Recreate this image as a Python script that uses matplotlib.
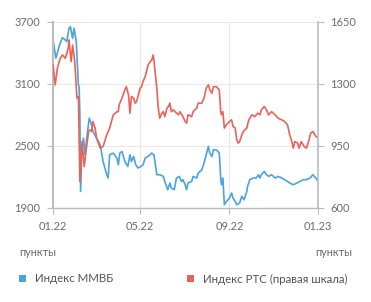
import matplotlib.pyplot as plt
from matplotlib.patches import Patch
import pandas as pd

# day offsets from 01.01.2022 and index values
mmvb_days = [0, 4, 9, 13, 17, 19, 22, 24, 27, 29, 32, 35, 36, 37, 38, 40, 42, 44, 47, 50,
             53, 55, 60, 65, 69, 74, 76, 78, 83, 88, 90, 92, 95, 99, 103, 106, 108, 111, 114, 117,
             121, 124, 127, 131, 136, 139, 143, 147, 152, 154, 158, 161, 163, 167, 170, 174, 177, 179, 182, 184,
             186, 191, 193, 198, 200, 205, 208, 211, 214, 216, 219, 221, 225, 229, 231, 232, 234, 236, 239, 243,
             246, 248, 251, 253, 257, 260, 263, 264, 267, 268, 271, 276, 280, 283, 285, 287, 291, 294, 297, 301,
             306, 310, 315, 319, 323, 326, 331, 336, 340, 345, 349, 354, 358, 362, 365]
mmvb = [3526, 3350, 3478, 3548, 3526, 3510, 3639, 3655, 3542, 3640, 3510, 3091, 3075, 2800, 2060, 2480, 2576, 2415, 2608, 2770,
        2705, 2640, 2576, 2512, 2350, 2222, 2190, 2415, 2431, 2383, 2318, 2431, 2447, 2350, 2302, 2415, 2350, 2399, 2318, 2287,
        2302, 2318, 2383, 2399, 2431, 2415, 2222, 2222, 2206, 2157, 2077, 2142, 2093, 2077, 2190, 2206, 2157, 2174, 2125, 2077,
        2142, 2157, 2206, 2190, 2238, 2270, 2335, 2415, 2496, 2431, 2399, 2463, 2463, 2431, 2190, 2125, 2190, 1932, 1964, 1996,
        2045, 1996, 1964, 1932, 1948, 2013, 1980, 1996, 2061, 2109, 2174, 2190, 2190, 2222, 2190, 2222, 2254, 2222, 2206, 2222,
        2190, 2206, 2190, 2174, 2157, 2142, 2125, 2142, 2157, 2174, 2174, 2190, 2222, 2190, 2157]

rts_days = [0, 3, 6, 10, 13, 17, 21, 22, 25, 27, 30, 33, 35, 37, 38, 40, 43, 46, 49, 51,
            53, 55, 58, 60, 65, 69, 74, 78, 83, 88, 90, 91, 95, 99, 101, 104, 106, 108, 111, 113,
            115, 117, 120, 122, 124, 127, 131, 134, 136, 138, 139, 143, 145, 147, 150, 152, 154, 157, 159, 161,
            163, 166, 168, 173, 175, 179, 182, 184, 186, 191, 193, 198, 200, 205, 208, 211, 214, 216, 219, 221,
            225, 229, 231, 232, 234, 236, 239, 243, 246, 248, 251, 253, 255, 257, 261, 264, 267, 269, 271, 274,
            278, 282, 285, 287, 291, 294, 297, 301, 306, 310, 315, 319, 323, 326, 329, 331, 333, 337, 339, 342,
            346, 349, 352, 355, 358, 362, 365]
rts = [1408, 1295, 1389, 1445, 1464, 1445, 1502, 1549, 1426, 1520, 1426, 1220, 1229, 750, 806, 975, 834, 938, 1032, 1041,
       1032, 1088, 1051, 995, 938, 947, 1013, 1051, 1126, 1144, 1144, 1182, 1220, 1267, 1285, 1239, 1135, 1229, 1220, 1192,
       1201, 1229, 1276, 1285, 1314, 1342, 1408, 1426, 1436, 1464, 1436, 1276, 1164, 1107, 1135, 1144, 1116, 1164, 1173, 1192,
       1144, 1154, 1144, 1126, 1144, 1116, 1088, 1079, 1126, 1116, 1144, 1164, 1192, 1192, 1220, 1276, 1295, 1267, 1248, 1285,
       1285, 1267, 1144, 1126, 1144, 1051, 1070, 1088, 1098, 1060, 1051, 985, 966, 975, 1023, 1041, 1051, 1088, 1107, 1126,
       1116, 1135, 1126, 1154, 1173, 1154, 1126, 1144, 1126, 1107, 1098, 1088, 1070, 1013, 975, 938, 975, 966, 938, 975,
       947, 938, 975, 1023, 1032, 1004, 995]

left_ticks = [1900, 2500, 3100, 3700]
right_ticks = [600, 950, 1300, 1650]
x_ticks = ['2022-01-01', '2022-05-01', '2022-09-01', '2023-01-01']
x_labels = ['01.22', '05.22', '09.22', '01.23']

start = pd.Timestamp('2022-01-01')
mmvb_dates = start + pd.to_timedelta(mmvb_days, unit='D')
rts_dates = start + pd.to_timedelta(rts_days, unit='D')

blue = '#4aa3df'
red = '#ec6256'
axis_grey = '#bcbcbc'
grid_grey = '#e9e9e9'
text_grey = '#6a6a6a'
fs = 7.9
leg_fs = 8.3

plt.rcParams['font.family'] = ['Lato', 'DejaVu Sans']

fig = plt.figure(figsize=(3.71, 3.02), dpi=100)
ax = fig.add_axes([53 / 371, 1 - 208 / 302, 265 / 371, 186 / 302])
ax2 = ax.twinx()

ax.plot(mmvb_dates, mmvb, color=blue, lw=1.2)
ax2.plot(rts_dates, rts, color=red, lw=1.2)

ax.set_ylim(1900, 3700)
ax2.set_ylim(600, 1650)
ax.set_xlim(pd.Timestamp('2022-01-01'), pd.Timestamp('2023-01-01'))
ax.set_yticks(left_ticks)
ax2.set_yticks(right_ticks)
ax.set_xticks(pd.to_datetime(x_ticks))
ax.set_xticklabels(x_labels)

ax.grid(True, color=grid_grey, lw=0.8)
ax.set_axisbelow(True)

for a in (ax, ax2):
    a.spines['top'].set_visible(False)
    a.tick_params(colors=axis_grey, labelcolor=text_grey, labelsize=fs, length=4, width=0.8, pad=5)
ax2.spines['left'].set_visible(False)
ax2.spines['bottom'].set_visible(False)
ax.spines['right'].set_visible(False)
ax.spines['left'].set_color(axis_grey)
ax.spines['left'].set_linewidth(1.5)
ax2.spines['right'].set_color(axis_grey)
ax2.spines['right'].set_linewidth(1.2)
ax.spines['bottom'].set_color(axis_grey)
ax.spines['bottom'].set_linewidth(1.0)

fig.text(19 / 371, 1 - 252 / 302, 'пункты', color=text_grey, fontsize=fs, va='center', ha='left')
fig.text(352 / 371, 1 - 252 / 302, 'пункты', color=text_grey, fontsize=fs, va='center', ha='right')

leg_kw = dict(frameon=False, loc='center left', fontsize=leg_fs, labelcolor='#555555',
              handlelength=0.65, handleheight=0.65, handletextpad=0.7, borderaxespad=0, borderpad=0)
fig.legend([Patch(facecolor=blue, edgecolor='none')], ['Индекс ММВБ'],
           bbox_to_anchor=(19 / 371, 1 - 279 / 302), **leg_kw)
fig.legend([Patch(facecolor=red, edgecolor='none')], ['Индекс РТС (правая шкала)'],
           bbox_to_anchor=(187 / 371, 1 - 279 / 302), **leg_kw)

fig.savefig('out.png', dpi=100)
